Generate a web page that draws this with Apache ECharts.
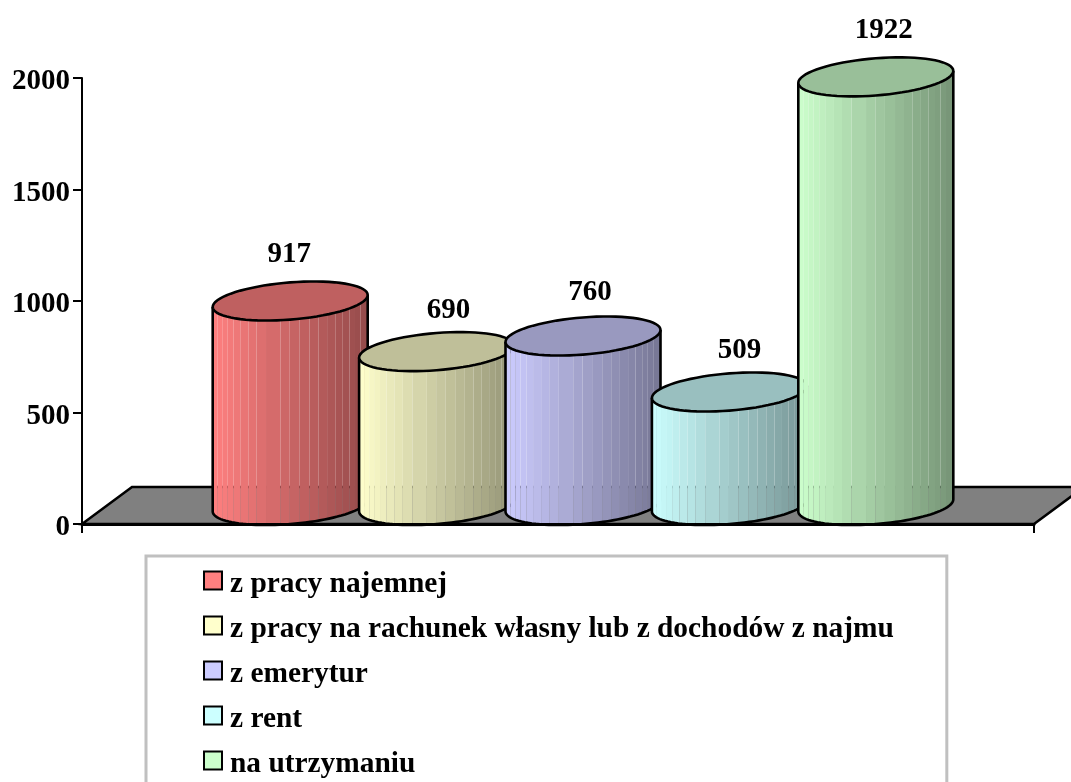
<!DOCTYPE html>
<html>
<head>
<meta charset="utf-8">
<title>chart</title>
<script src="https://cdn.jsdelivr.net/npm/echarts@6/dist/echarts.min.js"></script>
<style>
  html, body { margin: 0; padding: 0; background: #fff; }
  #main { width: 1071px; height: 782px; }
</style>
</head>
<body>
<div id="main"></div>
<script>
const seriesNames = [
  "z pracy najemnej",
  "z pracy na rachunek własny lub z dochodów z najmu",
  "z emerytur",
  "z rent",
  "na utrzymaniu",
];
const seriesValues = [917, 690, 760, 509, 1922];
const seriesColors = ["#ff8080", "#ffffcc", "#ccccff", "#ccffff", "#ccffcc"];
const yTicks = { min: 0, max: 2000, interval: 500 };

// label nudges, the original placed them by hand
const labelShift = [[-1, -46], [12, -41], [7, -44], [10, -41], [8, -46]];

const FONT = "Liberation Serif";
const FONT_SIZE = 29;
const DEPTH_X = 50;
const DEPTH_Y = 37;
const STEP = 146.4;
const RADIUS = 77.5;
const TILT = 6;
const MINOR = 18.6;
// where the seams sit, as a share of the cylinder width
const SEAMS = [0, 0.032, 0.065, 0.097, 0.135, 0.178, 0.23, 0.282, 0.344, 0.437, 0.497,
  0.559, 0.624, 0.682, 0.738, 0.791, 0.839, 0.882, 0.918, 0.953, 1];

function shade(hex, k) {
  const n = parseInt(hex.slice(1), 16);
  const c = [(n >> 16) & 255, (n >> 8) & 255, n & 255].map((v) => Math.round(v * k));
  return "rgb(" + c.join(",") + ")";
}

// point on the ellipse, t=0 is the right edge and t=PI the left one
function rim(cx, cy, t) {
  return [
    cx + RADIUS * Math.cos(t),
    cy - TILT * Math.cos(t) + MINOR * Math.sin(t),
  ];
}

function arc(cx, cy, from, to, steps) {
  const pts = [];
  for (let i = 0; i <= steps; i++) {
    pts.push(rim(cx, cy, from + ((to - from) * i) / steps));
  }
  return pts;
}

const seamAngle = (f) => Math.acos(2 * f - 1);

const renderFloor = (params, api) => {
  const g = params.coordSys;
  const b = g.y + g.height;
  return {
    type: "polygon",
    shape: {
      points: [
        [g.x, b],
        [g.x + DEPTH_X, b - DEPTH_Y],
        [g.x + g.width + DEPTH_X, b - DEPTH_Y],
        [g.x + g.width, b],
      ],
    },
    style: { fill: "#808080", stroke: "#000", lineWidth: 2.5 },
  };
};

const renderCylinder = (index) => (params, api) => {
  const top = api.coord([api.value(0), api.value(1)]);
  const base = api.coord([api.value(0), 0]);
  const cx = top[0] + DEPTH_X / 2 + (index - 2) * STEP;
  const baseY = base[1] - DEPTH_Y / 2;
  const topY = top[1] - DEPTH_Y / 2;
  const color = seriesColors[index];
  const children = [];

  // body, one polygon per strip so the seams show what is behind
  for (let k = 0; k < SEAMS.length - 1; k++) {
    const t0 = Math.PI - seamAngle(1 - SEAMS[k]);
    const t1 = Math.PI - seamAngle(1 - SEAMS[k + 1]);
    const points = arc(cx, topY, t0, t1, 3).concat(arc(cx, baseY, t1, t0, 3));
    children.push({
      type: "polygon",
      shape: { points },
      style: { fill: shade(color, 1 - 0.42 * ((SEAMS[k] + SEAMS[k + 1]) / 2)) },
    });
  }

  // outline of the body
  children.push({
    type: "polyline",
    shape: {
      points: [rim(cx, topY, Math.PI)]
        .concat(arc(cx, baseY, Math.PI, 0, 48))
        .concat([rim(cx, topY, 0)]),
    },
    style: { fill: "none", stroke: "#000", lineWidth: 2.6 },
  });

  // lid
  children.push({
    type: "polygon",
    shape: { points: arc(cx, topY, 0, Math.PI * 2, 72) },
    style: { fill: shade(color, 0.75), stroke: "#000", lineWidth: 2.6 },
  });

  children.push({
    type: "text",
    style: {
      text: String(api.value(1)),
      x: cx + labelShift[index][0],
      y: topY + labelShift[index][1],
      align: "center",
      verticalAlign: "middle",
      fontFamily: FONT,
      fontWeight: "bold",
      fontSize: FONT_SIZE,
      fill: "#000",
    },
  });

  return { type: "group", children };
};

const myChart = echarts.init(document.getElementById("main"), null, { renderer: "canvas" });

const series = [
  {
    name: "floor",
    type: "custom",
    renderItem: renderFloor,
    data: [[0, 0]],
    z: 1,
    silent: true,
  },
];
seriesNames.forEach((name, i) => {
  series.push({
    name,
    type: "custom",
    renderItem: renderCylinder(i),
    encode: { x: 0, y: 1 },
    data: [[0, seriesValues[i]]],
    itemStyle: { color: seriesColors[i] },
    z: 3 + i,
    silent: true,
  });
});

const option = {
  animation: false,
  backgroundColor: "#fff",
  textStyle: { fontFamily: FONT },
  grid: { left: 82, right: 37, top: 78, bottom: 258 },
  legend: {
    orient: "vertical",
    left: 146,
    top: 556,
    height: 300,
    data: seriesNames.map((name) => ({ name, icon: "rect" })),
    padding: [14, 53, 40, 57],
    backgroundColor: "#fff",
    borderColor: "#c0c0c0",
    borderWidth: 3,
    itemWidth: 18,
    itemHeight: 18,
    itemGap: 16,
    itemStyle: { borderColor: "#000", borderWidth: 2 },
    selectedMode: false,
    formatter: (name) => "{t|" + name + "}",
    textStyle: {
      rich: {
        t: {
          fontFamily: FONT,
          fontWeight: "bold",
          fontSize: 29.4,
          color: "#000",
          padding: [8, 0, 0, 3],
        },
      },
    },
  },
  xAxis: {
    type: "category",
    data: [""],
    z: 20,
    axisLine: { lineStyle: { color: "#000", width: 3 } },
    axisTick: { show: true, length: 9, lineStyle: { color: "#000", width: 2 } },
    axisLabel: { show: false },
    splitLine: { show: false },
  },
  yAxis: {
    type: "value",
    min: yTicks.min,
    max: yTicks.max,
    interval: yTicks.interval,
    axisLine: { show: true, lineStyle: { color: "#000", width: 2 } },
    axisTick: { show: true, length: 9, lineStyle: { color: "#000", width: 2 } },
    axisLabel: {
      margin: 12,
      color: "#000",
      formatter: (v) => "{t|" + v + "}",
      rich: {
        t: {
          fontFamily: FONT,
          fontWeight: "bold",
          fontSize: FONT_SIZE,
          color: "#000",
          padding: [8, 0, 0, 0],
        },
      },
    },
    splitLine: { show: false },
  },
  series,
};
myChart.setOption(option);
</script>
</body>
</html>
